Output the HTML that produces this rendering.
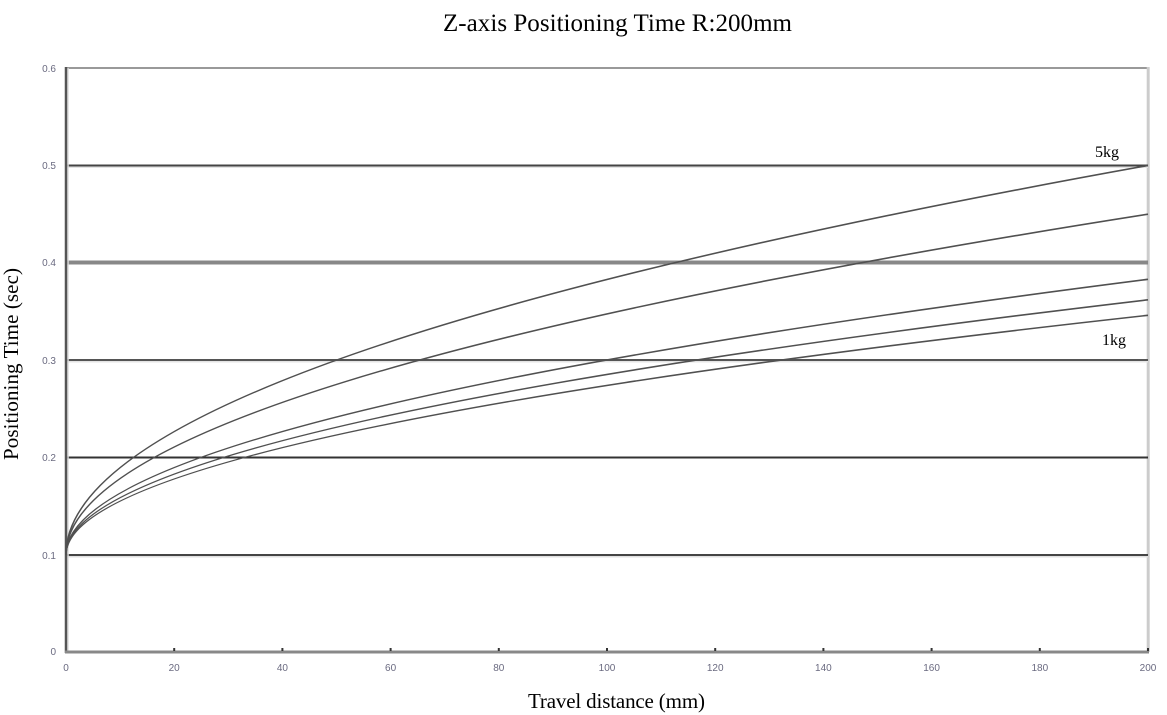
<!DOCTYPE html>
<html>
<head>
<meta charset="utf-8">
<style>
html,body{margin:0;padding:0;background:#fff;}
svg{display:block;}
</style>
</head>
<body>
<svg width="1167" height="715" viewBox="0 0 1167 715" xmlns="http://www.w3.org/2000/svg">
  <rect width="1167" height="715" fill="#fff"/>
  <!-- title -->
  <text x="617.5" y="31" font-family="Liberation Serif, serif" font-size="25" text-anchor="middle" textLength="349" fill="#000">Z-axis Positioning Time R:200mm</text>

  <!-- frame -->
  <line x1="66" y1="68" x2="1148" y2="68" stroke="#999" stroke-width="2"/>
  <line x1="1148.2" y1="67" x2="1148.2" y2="652" stroke="#ccc" stroke-width="3"/>

  <!-- gridlines -->
  <line x1="66" y1="167" x2="1148" y2="167" stroke="#e4e4e4" stroke-width="2"/>
  <line x1="66" y1="165.5" x2="1148" y2="165.5" stroke="#444" stroke-width="2"/>
  <line x1="66" y1="262.5" x2="1148" y2="262.5" stroke="#888" stroke-width="4"/>
  <line x1="66" y1="361.5" x2="1148" y2="361.5" stroke="#e4e4e4" stroke-width="2"/>
  <line x1="66" y1="360" x2="1148" y2="360" stroke="#555" stroke-width="2"/>
  <line x1="66" y1="457.5" x2="1148" y2="457.5" stroke="#333" stroke-width="2"/>
  <line x1="66" y1="556.5" x2="1148" y2="556.5" stroke="#e0e0e0" stroke-width="2"/>
  <line x1="66" y1="555" x2="1148" y2="555" stroke="#444" stroke-width="2"/>

  <!-- axes -->
  <line x1="68" y1="68" x2="68" y2="652" stroke="#ddd" stroke-width="1.5"/>
  <line x1="66" y1="67" x2="66" y2="653" stroke="#555" stroke-width="2.5"/>
  <line x1="65" y1="652" x2="1149" y2="652" stroke="#888" stroke-width="3"/>

  <!-- x ticks -->
  <g stroke="#333" stroke-width="2">
    <line x1="174.2" y1="648" x2="174.2" y2="651"/>
    <line x1="282.4" y1="648" x2="282.4" y2="651"/>
    <line x1="390.6" y1="648" x2="390.6" y2="651"/>
    <line x1="498.8" y1="648" x2="498.8" y2="651"/>
    <line x1="607" y1="648" x2="607" y2="651"/>
    <line x1="715.2" y1="648" x2="715.2" y2="651"/>
    <line x1="823.4" y1="648" x2="823.4" y2="651"/>
    <line x1="931.6" y1="648" x2="931.6" y2="651"/>
    <line x1="1039.8" y1="648" x2="1039.8" y2="651"/>
    <line x1="1148" y1="648" x2="1148" y2="651"/>
  </g>

  <!-- curves (sqrt shape = parabola, exact quadratic bezier) -->
  <g fill="none" stroke="#505050" stroke-width="1.6">
    <path d="M66,554.7 Q66,360.1 1148,165.5"/>
    <path d="M66,554.7 Q66,384.4 1148,214.2"/>
    <path d="M66,554.7 Q66,417.0 1148,279.3"/>
    <path d="M66,554.7 Q66,427.2 1148,299.8"/>
    <path d="M66,554.7 Q66,435.0 1148,315.3"/>
  </g>

  <!-- curve labels -->
  <text x="1095" y="157" font-family="Liberation Serif, serif" font-size="16" fill="#000">5kg</text>
  <text x="1102" y="345" font-family="Liberation Serif, serif" font-size="16" fill="#000">1kg</text>

  <!-- y tick labels -->
  <g font-family="Liberation Sans, sans-serif" font-size="10" fill="#6a6a80" text-anchor="end">
    <text x="56" y="72">0.6</text>
    <text x="56" y="169">0.5</text>
    <text x="56" y="266">0.4</text>
    <text x="56" y="364">0.3</text>
    <text x="56" y="461">0.2</text>
    <text x="56" y="559">0.1</text>
    <text x="56" y="655">0</text>
  </g>

  <!-- x tick labels -->
  <g font-family="Liberation Sans, sans-serif" font-size="10" fill="#6a6a80" text-anchor="middle">
    <text x="66" y="671">0</text>
    <text x="174.2" y="671">20</text>
    <text x="282.4" y="671">40</text>
    <text x="390.6" y="671">60</text>
    <text x="498.8" y="671">80</text>
    <text x="607" y="671">100</text>
    <text x="715.2" y="671">120</text>
    <text x="823.4" y="671">140</text>
    <text x="931.6" y="671">160</text>
    <text x="1039.8" y="671">180</text>
    <text x="1148" y="671">200</text>
  </g>

  <!-- axis titles -->
  <text x="616.5" y="708" font-family="Liberation Serif, serif" font-size="21" text-anchor="middle" textLength="177" fill="#000">Travel distance (mm)</text>
  <text transform="translate(18,364) rotate(-90)" x="0" y="0" font-family="Liberation Serif, serif" font-size="21" text-anchor="middle" textLength="192" fill="#000">Positioning Time (sec)</text>
</svg>
</body>
</html>
